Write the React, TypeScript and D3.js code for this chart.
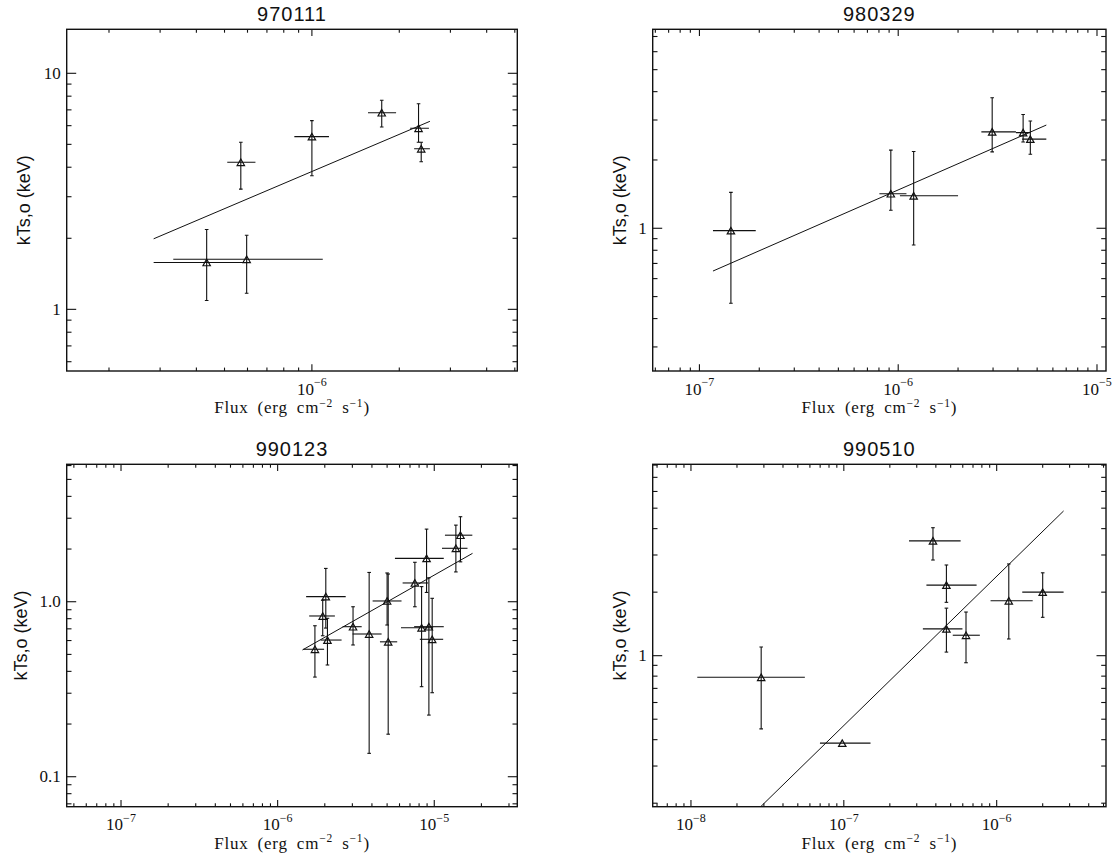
import React from "react";
import * as d3 from "d3";

const W = 1116;
const H = 861;

// ---------- Panel 1 : 970111 ----------
const p1Title = "970111";
const p1XRange = [1.43e-7, 5.1e-6];
const p1YRange = [0.548, 15.36];
const p1XExps = [-6];
const p1YTicks = [1, 10];
const p1YLabels = ["1", "10"];
const p1Flux = [4.34e-7, 5.96e-7, 5.69e-7, 1.0e-6, 1.74e-6, 2.33e-6, 2.38e-6];
const p1FluxLo = [2.85e-7, 3.33e-7, 5.11e-7, 8.7e-7, 1.56e-6, 2.18e-6, 2.25e-6];
const p1FluxHi = [5.97e-7, 1.09e-6, 6.39e-7, 1.145e-6, 1.95e-6, 2.53e-6, 2.55e-6];
const p1kT = [1.58, 1.63, 4.2, 5.39, 6.81, 5.85, 4.79];
const p1kTLo = [1.09, 1.17, 3.23, 3.68, 5.92, 5.1, 4.22];
const p1kTHi = [2.18, 2.06, 5.1, 6.3, 7.69, 7.43, 5.1];
const p1FitX = [2.85e-7, 2.55e-6];
const p1FitY = [1.99, 6.26];

// ---------- Panel 2 : 980329 ----------
const p2Title = "980329";
const p2XRange = [5.82e-8, 1.11e-5];
const p2YRange = [0.235, 7.53];
const p2XExps = [-7, -6, -5];
const p2YTicks = [1];
const p2YLabels = ["1"];
const p2Flux = [1.44e-7, 9.18e-7, 1.196e-6, 2.97e-6, 4.25e-6, 4.62e-6];
const p2FluxLo = [1.17e-7, 8.04e-7, 1.02e-6, 2.62e-6, 3.91e-6, 4.2e-6];
const p2FluxHi = [1.92e-7, 1.1e-6, 2.0e-6, 3.91e-6, 4.62e-6, 5.56e-6];
const p2kT = [0.976, 1.42, 1.39, 2.66, 2.64, 2.47];
const p2kTLo = [0.467, 1.2, 0.844, 2.17, 2.4, 2.12];
const p2kTHi = [1.44, 2.21, 2.18, 3.76, 3.17, 2.97];
const p2FitX = [1.17e-7, 5.56e-6];
const p2FitY = [0.648, 2.85];

// ---------- Panel 3 : 990123 ----------
const p3Title = "990123";
const p3XRange = [4.5e-8, 3.39e-5];
const p3YRange = [0.0674, 6.1];
const p3XExps = [-7, -6, -5];
const p3YTicks = [0.1, 1];
const p3YLabels = ["0.1", "1.0"];
const p3Flux = [1.73e-6, 1.94e-6, 2.03e-6, 2.08e-6, 3.03e-6, 3.84e-6, 5.0e-6, 5.08e-6, 7.52e-6, 8.93e-6, 8.3e-6, 9.24e-6, 9.7e-6, 1.374e-5, 1.47e-5];
const p3FluxLo = [1.46e-6, 1.59e-6, 1.52e-6, 1.88e-6, 2.6e-6, 3.01e-6, 4.04e-6, 4.5e-6, 6.28e-6, 5.61e-6, 6.13e-6, 7.44e-6, 8.09e-6, 1.12e-5, 1.17e-5];
const p3FluxHi = [1.98e-6, 2.32e-6, 2.72e-6, 2.56e-6, 3.44e-6, 4.61e-6, 6.18e-6, 5.8e-6, 9.14e-6, 1.15e-5, 9.84e-6, 1.15e-5, 1.14e-5, 1.63e-5, 1.75e-5];
const p3kT = [0.535, 0.829, 1.07, 0.604, 0.72, 0.654, 1.01, 0.59, 1.28, 1.77, 0.71, 0.72, 0.61, 2.02, 2.4];
const p3kTLo = [0.371, 0.639, 0.707, 0.435, 0.566, 0.136, 0.736, 0.175, 0.936, 1.13, 0.327, 0.225, 0.302, 1.48, 1.69];
const p3kTHi = [0.729, 1.02, 1.55, 0.804, 0.936, 1.47, 1.46, 1.44, 1.68, 2.6, 1.22, 1.37, 1.046, 2.74, 3.06];
const p3FitX = [1.44e-6, 1.755e-5];
const p3FitY = [0.53, 1.89];

// ---------- Panel 4 : 990510 ----------
const p4Title = "990510";
const p4XRange = [5.62e-9, 5.19e-6];
const p4YRange = [0.1925, 8.07];
const p4XExps = [-8, -7, -6];
const p4YTicks = [1];
const p4YLabels = ["1"];
const p4Flux = [2.88e-8, 9.77e-8, 3.83e-7, 4.69e-7, 4.69e-7, 6.3e-7, 1.2e-6, 2.0e-6];
const p4FluxLo = [1.1e-8, 6.98e-8, 2.67e-7, 3.47e-7, 3.29e-7, 5.16e-7, 9.12e-7, 1.47e-6];
const p4FluxHi = [5.56e-8, 1.495e-7, 5.81e-7, 7.39e-7, 5.97e-7, 7.76e-7, 1.72e-6, 2.74e-6];
const p4kT = [0.79, 0.385, 3.5, 2.16, 1.34, 1.25, 1.82, 2.0];
const p4kTLo = [0.45, 0.385, 2.84, 1.79, 1.04, 0.926, 1.2, 1.52];
const p4kTHi = [1.1, 0.385, 4.04, 2.69, 1.68, 1.61, 2.72, 2.47];
const p4FitX = [1.1e-8, 2.74e-6];
const p4FitY = [0.098, 4.85];

const panels = [
  { title: p1Title, xr: p1XRange, yr: p1YRange, xe: p1XExps, yt: p1YTicks, yl: p1YLabels, f: p1Flux, fl: p1FluxLo, fh: p1FluxHi, k: p1kT, kl: p1kTLo, kh: p1kTHi, fx: p1FitX, fy: p1FitY },
  { title: p2Title, xr: p2XRange, yr: p2YRange, xe: p2XExps, yt: p2YTicks, yl: p2YLabels, f: p2Flux, fl: p2FluxLo, fh: p2FluxHi, k: p2kT, kl: p2kTLo, kh: p2kTHi, fx: p2FitX, fy: p2FitY },
  { title: p3Title, xr: p3XRange, yr: p3YRange, xe: p3XExps, yt: p3YTicks, yl: p3YLabels, f: p3Flux, fl: p3FluxLo, fh: p3FluxHi, k: p3kT, kl: p3kTLo, kh: p3kTHi, fx: p3FitX, fy: p3FitY },
  { title: p4Title, xr: p4XRange, yr: p4YRange, xe: p4XExps, yt: p4YTicks, yl: p4YLabels, f: p4Flux, fl: p4FluxLo, fh: p4FluxHi, k: p4kT, kl: p4kTLo, kh: p4kTHi, fx: p4FitX, fy: p4FitY },
];

const boxes = [
  { l: 66.7, r: 517.3, t: 29.3, b: 371, yTitleX: 30 },
  { l: 652.7, r: 1106, t: 29.3, b: 371, yTitleX: 626 },
  { l: 66.7, r: 517.3, t: 464.3, b: 806.7, yTitleX: 27 },
  { l: 652.7, r: 1106, t: 464.3, b: 806.7, yTitleX: 626 },
];

const SERIF = "'Liberation Serif', 'Times New Roman', serif";
const SANS = "'Liberation Sans', Arial, sans-serif";
const INK = "#111";

function logTicks(d0: number, d1: number) {
  const out: { v: number; major: boolean }[] = [];
  const e0 = Math.floor(Math.log10(d0));
  const e1 = Math.ceil(Math.log10(d1));
  for (let e = e0; e <= e1; e++) {
    for (let m = 1; m <= 9; m++) {
      const v = m * Math.pow(10, e);
      if (v >= d0 * (1 - 1e-9) && v <= d1 * (1 + 1e-9)) out.push({ v, major: m === 1 });
    }
  }
  return out;
}

function Panel({ p, box, idx }: { p: any; box: any; idx: number }) {
  const xs = d3.scaleLog().domain(p.xr).range([box.l, box.r]);
  const ys = d3.scaleLog().domain(p.yr).range([box.b, box.t]);
  const xt = logTicks(p.xr[0], p.xr[1]);
  const yt = logTicks(p.yr[0], p.yr[1]);
  const xMaj = 6.8, xMin = 3.4, yMaj = 9.5, yMin = 4.8;
  const clipId = `clip${idx}`;
  const cx = (box.l + box.r) / 2;
  const cy = (box.t + box.b) / 2;
  const fitLine = d3.line<number>()
    .x((_, i) => xs(p.fx[i]))
    .y((_, i) => ys(p.fy[i]));
  const tri = (x: number, y: number) => {
    const hw = 3.7, hh = 3.3;
    return `M${x},${y - hh}L${x - hw},${y + hh}L${x + hw},${y + hh}Z`;
  };
  return (
    <g>
      <defs>
        <clipPath id={clipId}>
          <rect x={box.l} y={box.t} width={box.r - box.l} height={box.b - box.t} />
        </clipPath>
      </defs>
      {/* title */}
      <text x={cx} y={box.t - 8.6} textAnchor="middle" fontFamily={SANS} fontSize={20} letterSpacing={1} fill={INK}>
        {p.title}
      </text>
      {/* x ticks */}
      {xt.map((t, i) => {
        const x = xs(t.v);
        const len = t.major ? xMaj : xMin;
        return (
          <g key={"xt" + i} stroke={INK} strokeWidth={1.1}>
            <line x1={x} x2={x} y1={box.b} y2={box.b - len} />
            <line x1={x} x2={x} y1={box.t} y2={box.t + len} />
          </g>
        );
      })}
      {/* y ticks */}
      {yt.map((t, i) => {
        const y = ys(t.v);
        const len = t.major ? yMaj : yMin;
        return (
          <g key={"yt" + i} stroke={INK} strokeWidth={1.1}>
            <line x1={box.l} x2={box.l + len} y1={y} y2={y} />
            <line x1={box.r} x2={box.r - len} y1={y} y2={y} />
          </g>
        );
      })}
      {/* x tick labels */}
      {p.xe.map((e: number) => (
        <text key={"xl" + e} x={xs(Math.pow(10, e))} y={box.b + 23.5} textAnchor="middle" fontFamily={SERIF} fontSize={17} fill={INK}>
          10<tspan dy={-8.5} fontSize={12}>{"\u2212" + Math.abs(e)}</tspan>
        </text>
      ))}
      {/* y tick labels */}
      {p.yt.map((v: number, i: number) => (
        <text key={"yl" + i} x={box.l - 6} y={ys(v) + 5.5} textAnchor="end" fontFamily={SERIF} fontSize={17} fill={INK}>
          {p.yl[i]}
        </text>
      ))}
      {/* axis titles */}
      <text x={cx} y={box.b + 42} textAnchor="middle" fontFamily={SERIF} fontSize={17} letterSpacing={0.8} wordSpacing={4} fill={INK}>
        Flux (erg cm<tspan dy={-6.5} fontSize={11.5}>{"\u22122"}</tspan>
        <tspan dy={6.5}> s</tspan>
        <tspan dy={-6.5} fontSize={11.5}>{"\u22121"}</tspan>
        <tspan dy={6.5}>)</tspan>
      </text>
      <text transform={`translate(${box.yTitleX},${cy}) rotate(-90)`} textAnchor="middle" fontFamily={SANS} fontSize={18} fill={INK}>
        kTs,o (keV)
      </text>
      {/* data */}
      <g clipPath={`url(#${clipId})`} stroke={INK} fill="none" strokeWidth={1}>
        <path d={fitLine(p.fx) || ""} />
        {p.f.map((fv: number, i: number) => {
          const x = xs(fv);
          const y = ys(p.k[i]);
          const yl = ys(p.kl[i]);
          const yh = ys(p.kh[i]);
          const hasY = p.kl[i] !== p.kh[i];
          return (
            <g key={"pt" + i}>
              <line x1={xs(p.fl[i])} x2={xs(p.fh[i])} y1={y} y2={y} strokeWidth={1.1} />
              {hasY && (
                <g strokeWidth={1.1}>
                  <line x1={x} x2={x} y1={yl} y2={yh} />
                  <line x1={x - 1.8} x2={x + 1.8} y1={yl} y2={yl} />
                  <line x1={x - 1.8} x2={x + 1.8} y1={yh} y2={yh} />
                </g>
              )}
              <path d={tri(x, y)} fill="none" strokeWidth={1.2} />
            </g>
          );
        })}
      </g>
      {/* frame */}
      <rect x={box.l} y={box.t} width={box.r - box.l} height={box.b - box.t} fill="none" stroke={INK} strokeWidth={1.4} />
    </g>
  );
}

export default function App() {
  return (
    <svg width={W} height={H} viewBox={`0 0 ${W} ${H}`} style={{ position: "absolute", left: 0, top: 0, background: "#fff" }}>
      <rect x={0} y={0} width={W} height={H} fill="#fff" />
      {panels.map((p, i) => (
        <Panel key={i} p={p} box={boxes[i]} idx={i} />
      ))}
    </svg>
  );
}
